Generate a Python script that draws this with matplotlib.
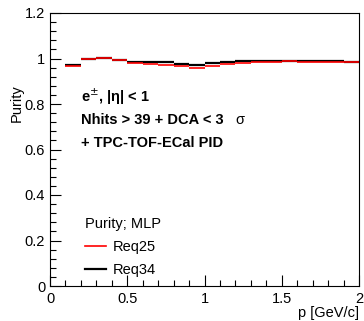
import numpy as np
import matplotlib
matplotlib.use("Agg")
import matplotlib.pyplot as plt
from matplotlib.lines import Line2D

plt.rcParams['font.family'] = ['Liberation Sans', 'DejaVu Sans']

# momentum bin edges [GeV/c]
bin_edges = [0.1, 0.2, 0.3, 0.4, 0.5, 0.6, 0.7, 0.8, 0.9, 1.0,
             1.1, 1.2, 1.3, 1.4, 1.5, 1.6, 1.7, 1.8, 1.9, 2.0]

# purity per bin
purity_req25 = [0.968, 0.998, 1.003, 0.992, 0.979, 0.975, 0.973, 0.969, 0.958, 0.966,
                0.975, 0.982, 0.985, 0.986, 0.987, 0.985, 0.983, 0.983, 0.985]
purity_req34 = [0.971, 1.000, 1.003, 0.992, 0.986, 0.985, 0.984, 0.977, 0.970, 0.979,
                0.984, 0.990, 0.991, 0.991, 0.991, 0.991, 0.991, 0.991, 0.985]

fig = plt.figure(figsize=(3.64, 3.21), dpi=100)
ax = fig.add_axes([50/364, 35/321, 309/364, 273/321])

# draw each bin as a flat segment (ROOT "hist" style without verticals)
edges = np.array(bin_edges)
ax.hlines(purity_req34, edges[:-1], edges[1:], color='black', lw=1.6)
ax.hlines(purity_req25, edges[:-1], edges[1:], color='red', lw=1.2)

ax.set_xlim(0, 2)
ax.set_ylim(0, 1.2)
ax.set_xticks([0, 0.5, 1, 1.5, 2])
ax.set_xticklabels(['0', '0.5', '1', '1.5', '2'])
ax.set_yticks([0, 0.2, 0.4, 0.6, 0.8, 1, 1.2])
ax.set_yticklabels(['0', '0.2', '0.4', '0.6', '0.8', '1', '1.2'])
ax.set_xticks(np.arange(0, 2.001, 0.1), minor=True)
ax.set_yticks(np.arange(0, 1.201, 0.04), minor=True)
ax.tick_params(direction='in', which='major', length=8, width=0.8, labelsize=10.5)
ax.tick_params(direction='in', which='minor', length=4, width=0.8)
ax.tick_params(axis='x', pad=4)
for s in ax.spines.values():
    s.set_linewidth(0.8)

fig.text(359/364, 8/321, 'p [GeV/c]', ha='right', va='center', fontsize=10.5)
fig.text(17/364, 1 - 103/321, 'Purity', ha='center', va='center',
         rotation=90, fontsize=10.5)

ax.text(0.2, 0.83, r'e$^{\pm}$, |η| < 1', fontsize=10.5, fontweight='bold', va='center')
ax.text(0.2, 0.73, 'Nhits > 39 + DCA < 3', fontsize=10.5, fontweight='bold', va='center')
ax.text(1.2, 0.73, 'σ', fontsize=10.5, va='center')
ax.text(0.2, 0.63, '+ TPC-TOF-ECal PID', fontsize=10.5, fontweight='bold', va='center')

handles = [Line2D([], [], color='red', lw=1.2), Line2D([], [], color='black', lw=1.6)]
leg = ax.legend(handles, ['Req25', 'Req34'], title='Purity; MLP', frameon=False,
                loc='lower left', bbox_to_anchor=(0.07, -0.015), fontsize=10.5,
                title_fontsize=10.5, alignment='left', handlelength=1.45,
                labelspacing=0.6, handletextpad=0.5)

fig.savefig('out.png', dpi=100)
